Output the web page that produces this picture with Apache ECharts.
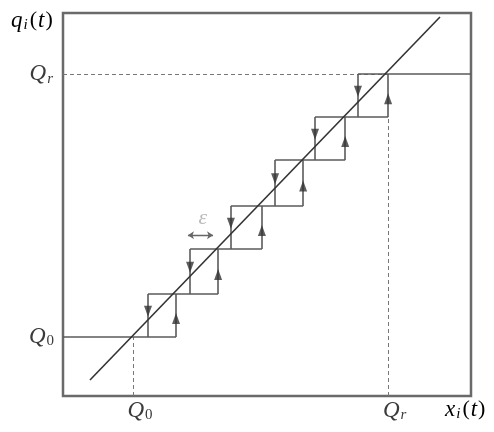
<!DOCTYPE html>
<html><head><meta charset="utf-8">
<script src="https://cdn.jsdelivr.net/npm/echarts@6/dist/echarts.min.js"></script>
<style>html,body{margin:0;padding:0;background:#fff}#c{width:494px;height:432px}</style>
</head><body><div id="c"></div>
<script>
// ---- data (chart units) ----
const xRange = [0, 9.6];
const yRange = [0, 8.74];
const Q0x = 1.647, Qrx = 7.65;           // x-axis tick positions
const Q0y = 1.346, Qry = 7.346;           // y-axis tick positions
const levels = [1.346, 2.327, 3.354, 4.335, 5.385, 6.366, 7.346]; // quantized levels
const leftEdges  = [2.00, 2.99, 3.95, 4.99, 5.93, 6.94];  // downward switching x
const rightEdges = [2.66, 3.65, 4.68, 5.65, 6.64, 7.65];  // upward switching x
const diagonal = [[0.635, 0.365], [8.87, 8.65]];
const epsArrow = [[2.94, 3.67], [3.53, 3.67]];
const epsLabelPos = [3.29, 4.06];
const xTickLabels = ['{g|}{q|Q}{s|0}', '{g|}{q|Q}{si|r}'];
const yTickLabels = ['{q|Q}{s|0}', '{q|Q}{si|r}'];

const LINE = '#5a5a5a';
const segs = [];
const n = leftEdges.length;
segs.push([[xRange[0], levels[0]], [rightEdges[0], levels[0]]]);
for (let k = 0; k < n; k++) {
  segs.push([[leftEdges[k], levels[k]], [leftEdges[k], levels[k + 1]]]);
  segs.push([[rightEdges[k], levels[k]], [rightEdges[k], levels[k + 1]]]);
  const endX = k < n - 1 ? rightEdges[k + 1] : xRange[1];
  segs.push([[leftEdges[k], levels[k + 1]], [endX, levels[k + 1]]]);
}
const dashed = [
  [[xRange[0], Qry], [Qrx, Qry]],
  [[Q0x, yRange[0]], [Q0x, Q0y]],
  [[Qrx, yRange[0]], [Qrx, levels[n - 1]]]
];
const down = [], up = [];
for (let k = 0; k < n; k++) {
  const mid = (levels[k] + levels[k + 1]) / 2;
  down.push([leftEdges[k], mid + 0.1]);
  up.push([rightEdges[k], mid - 0.07]);
}

const serif = 'Liberation Serif';
const TXT = '#3a3a3a';
const rich = {
  g: {width: 14},
  q: {fontFamily: serif, fontStyle: 'italic', fontSize: 23, color: TXT},
  s: {fontFamily: serif, fontSize: 15, color: TXT, verticalAlign: 'bottom', padding: [9, 0, 0, 1]},
  si: {fontFamily: serif, fontStyle: 'italic', fontSize: 15, color: TXT, verticalAlign: 'bottom', padding: [9, 1, 0, 1]},
  p: {fontFamily: serif, fontSize: 22, color: TXT, padding: [0, 1, 0, 1]}
};

const chart = echarts.init(document.getElementById('c'), null, {renderer: 'canvas'});
chart.setOption({
  animation: false,
  grid: {left: 63, right: 23, top: 13, bottom: 36, show: true, borderColor: '#6a6a6a', borderWidth: 2.5, backgroundColor: 'transparent'},
  xAxis: {
    type: 'value', min: xRange[0], max: xRange[1],
    splitLine: {show: false}, axisLine: {show: false},
    axisTick: {show: false},
    axisLabel: {
      customValues: [Q0x, Qrx], margin: 3, rich: rich,
      formatter: v => Math.abs(v - Q0x) < 1e-6 ? xTickLabels[0] : xTickLabels[1]
    }
  },
  yAxis: {
    type: 'value', min: yRange[0], max: yRange[1],
    splitLine: {show: false}, axisLine: {show: false},
    axisTick: {show: false},
    axisLabel: {
      customValues: [Q0y, Qry], margin: 9, rich: rich,
      formatter: v => Math.abs(v - Q0y) < 1e-6 ? yTickLabels[0] : yTickLabels[1]
    }
  },
  graphic: [
    {type: 'text', left: 11, top: 9, style: {text: '{q|q}{si|i}{p|(}{q|t}{p|)}', rich: rich}},
    {type: 'text', left: 445, top: 398, style: {text: '{q|x}{si|i}{p|(}{q|t}{p|)}', rich: rich}}
  ],
  series: [
    {type: 'lines', coordinateSystem: 'cartesian2d', silent: true,
     lineStyle: {color: '#777', width: 1, type: [4, 3], opacity: 1},
     data: dashed.map(c => ({coords: c}))},
    {type: 'lines', coordinateSystem: 'cartesian2d', silent: true,
     lineStyle: {color: LINE, width: 1.6, opacity: 1},
     data: segs.map(c => ({coords: c}))},
    {type: 'lines', coordinateSystem: 'cartesian2d', silent: true,
     lineStyle: {color: '#333', width: 1.6, opacity: 1},
     data: [{coords: diagonal}]},
    {type: 'lines', coordinateSystem: 'cartesian2d', silent: true,
     symbol: ['arrow', 'arrow'], symbolSize: 6,
     lineStyle: {color: '#666', width: 1.4, opacity: 1},
     data: [{coords: epsArrow}]},
    {type: 'scatter', symbol: 'triangle', symbolRotate: 180, symbolSize: [8, 11],
     itemStyle: {color: '#333'}, data: down, silent: true},
    {type: 'scatter', symbol: 'triangle', symbolSize: [8, 11],
     itemStyle: {color: '#333'}, data: up, silent: true},
    {type: 'scatter', symbolSize: 0, data: [epsLabelPos], silent: true,
     label: {show: true, position: 'inside', formatter: 'ε',
             fontFamily: serif, fontStyle: 'italic', fontSize: 22, color: '#aaa'}}
  ]
});
</script></body></html>
